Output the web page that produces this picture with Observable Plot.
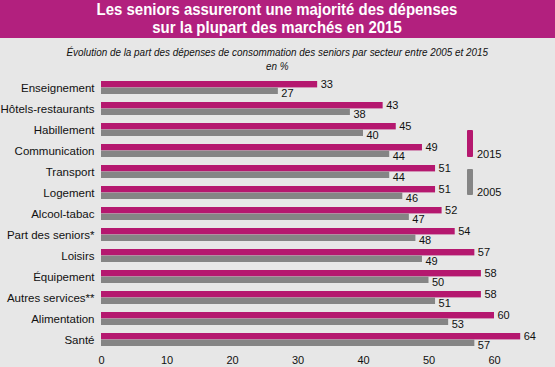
<!DOCTYPE html>
<html>
<head>
<meta charset="utf-8">
<script src="https://cdn.jsdelivr.net/npm/d3@7"></script>
<script src="https://cdn.jsdelivr.net/npm/@observablehq/plot@0.6"></script>
<style>
  html, body { margin: 0; padding: 0; background: #e7e7e7; width: 555px; height: 367px; overflow: hidden; }
  body { font-family: "Liberation Sans", Arial, sans-serif; position: relative; }
  #banner { height: 38px; background: #b2207e; color: #fff; text-align: center; font-weight: bold; font-size: 17px; line-height: 18px; padding-top: 1px; box-sizing: border-box; }
  #banner span { display: inline-block; transform: scaleX(0.88); transform-origin: 50% 50%; white-space: nowrap; }
  #sub { text-align: center; font-style: italic; font-size: 11px; line-height: 14px; color: #111; padding-top: 7px; height: 30px; box-sizing: border-box; }
  #sub span { display: inline-block; transform: scaleX(0.9); transform-origin: 50% 50%; white-space: nowrap; }
  #chart { position: absolute; top: 68px; left: 0; }
  .leg { position: absolute; width: 6px; border-radius: 1px; }
  .legt { position: absolute; font-size: 11px; color: #111; }
</style>
</head>
<body>
<div id="banner"><span>Les seniors assureront une majorité des dépenses<br>sur la plupart des marchés en 2015</span></div>
<div id="sub"><span>Évolution de la part des dépenses de consommation des seniors par secteur entre 2005 et 2015<br>en %</span></div>
<div id="chart"></div>
<div class="leg" style="left:467px;top:130px;height:27px;background:#b5186f"></div>
<div class="legt" style="left:477px;top:148px">2015</div>
<div class="leg" style="left:467px;top:169px;height:26px;background:#858585"></div>
<div class="legt" style="left:477px;top:186px">2005</div>
<script>
const categories = ["Enseignement", "Hôtels-restaurants", "Habillement", "Communication", "Transport", "Logement", "Alcool-tabac", "Part des seniors*", "Loisirs", "Équipement", "Autres services**", "Alimentation", "Santé"];
const values2015 = [33, 43, 45, 49, 51, 51, 52, 54, 57, 58, 58, 60, 64];
const values2005 = [27, 38, 40, 44, 44, 46, 47, 48, 49, 50, 51, 53, 57];
const xTicks = [0, 10, 20, 30, 40, 50, 60];

const data = categories.map((c, i) => ({cat: c, v2015: values2015[i], v2005: values2005[i]}));
const magenta = "#b5186f";
const grey = "#858585";
const half = 6.6;

const chart = Plot.plot({
  width: 555,
  height: 299,
  marginLeft: 101,
  marginRight: 61,
  marginTop: 6.8,
  marginBottom: 15,
  style: {background: "transparent", fontFamily: "'Liberation Sans', Arial, sans-serif", fontSize: "10px", color: "#111"},
  x: {domain: [0, 60], ticks: xTicks, label: null},
  y: {domain: categories, paddingInner: 0.391, paddingOuter: 0.09, label: null},
  marks: [
    Plot.barX(data, {y: "cat", x: "v2015", fill: magenta, insetBottom: half}),
    Plot.barX(data, {y: "cat", x: "v2005", fill: grey, insetTop: half}),
    Plot.text(data, {y: "cat", x: "v2015", text: d => String(d.v2015), dx: 3, dy: -3.3, textAnchor: "start", fill: "#111", fontSize: 11}),
    Plot.text(data, {y: "cat", x: "v2005", text: d => String(d.v2005), dx: 3, dy: 5.8, textAnchor: "start", fill: "#111", fontSize: 11}),
    Plot.axisY({tickSize: 0, tickPadding: 7, fontSize: 11.5, style: {letterSpacing: "0.45px"}}),
    Plot.axisX({ticks: xTicks, tickSize: 0, tickPadding: 4, fontSize: 11})
  ]
});
document.getElementById("chart").appendChild(chart);
</script>
</body>
</html>
